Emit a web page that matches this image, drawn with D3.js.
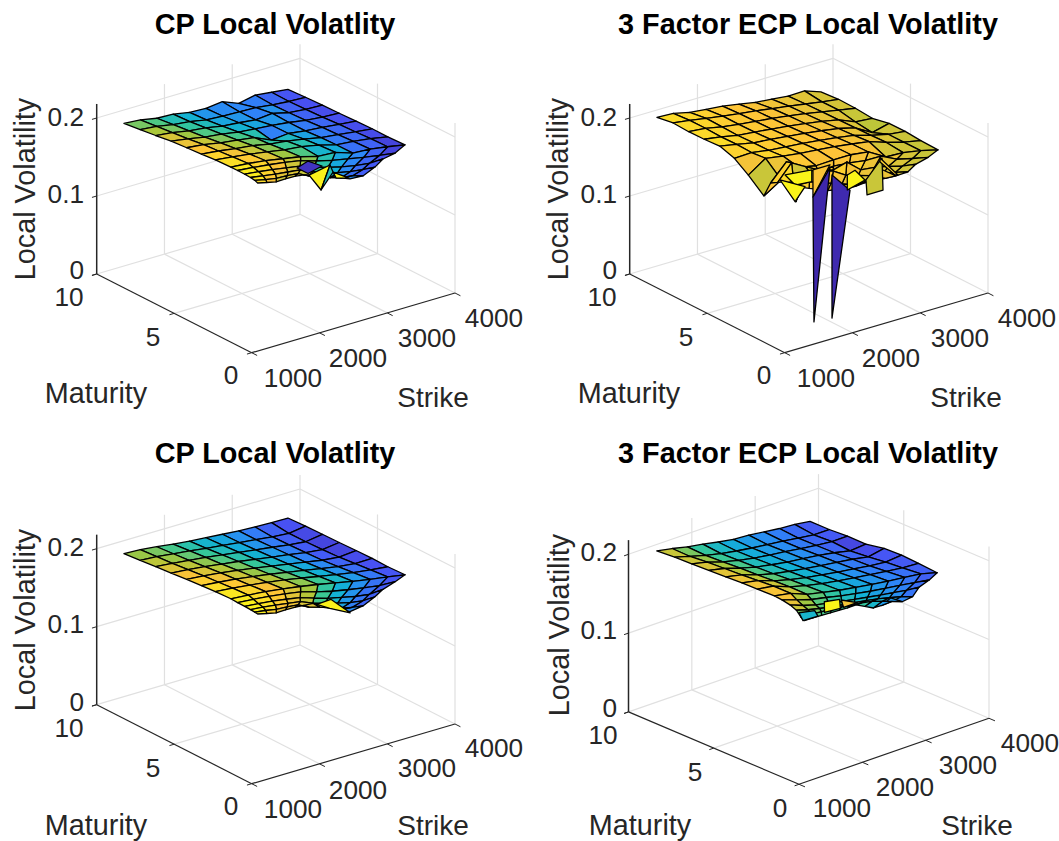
<!DOCTYPE html>
<html>
<head>
<meta charset="utf-8">
<script src="https://cdn.jsdelivr.net/npm/d3@7"></script>
<style>
  body { margin: 0; background: #fff; }
  text { font-family: "Liberation Sans", Arial, sans-serif; }
</style>
</head>
<body>
<div id="chart"></div>
<script>
// Local volatility surfaces, four panels

const titleCP = "CP Local Volatlity";
const titleECP = "3 Factor ECP Local Volatlity";
const strikeTicks = [1000, 2000, 3000, 4000];
const maturityTicks = [0, 5, 10];
const volTicks = [0, 0.1, 0.2];

// maturity of each row, far row first
const maturities = [8.9, 7.85, 6.85, 5.85, 4.85, 3.9, 3.0, 2.0, 1.5, 1.0, 0.6, 0.3, 0.1];

// strikes of each row (the range narrows at short maturities)
const strikeGrid = [
    [1150, 1392, 1634, 1876, 2118, 2360, 2602, 2844, 3086, 3328, 3570],
    [1150, 1394, 1638, 1882, 2126, 2370, 2614, 2858, 3102, 3346, 3590],
    [1150, 1396, 1642, 1888, 2134, 2380, 2626, 2872, 3118, 3364, 3610],
    [1150, 1398, 1646, 1894, 2142, 2390, 2638, 2886, 3134, 3382, 3630],
    [1150, 1400, 1650, 1900, 2150, 2400, 2650, 2900, 3150, 3400, 3650],
    [1150, 1402, 1654, 1906, 2158, 2410, 2662, 2914, 3166, 3418, 3670],
    [1150, 1405, 1659, 1914, 2168, 2423, 2677, 2932, 3186, 3441, 3695],
    [1150, 1407, 1664, 1921, 2178, 2435, 2692, 2949, 3206, 3463, 3720],
    [1135, 1368, 1600, 1833, 2065, 2298, 2530, 2763, 2995, 3228, 3460],
    [1126, 1330, 1534, 1738, 1942, 2146, 2350, 2554, 2758, 2962, 3166],
    [1120, 1304, 1487, 1671, 1854, 2038, 2222, 2405, 2589, 2772, 2956],
    [1114, 1274, 1433, 1593, 1752, 1912, 2072, 2231, 2391, 2550, 2710],
    [1111, 1247, 1383, 1520, 1656, 1792, 1928, 2064, 2201, 2337, 2473]
];

const volCPTop = [
    [.2005, .1986, .1946, .1936, .1899, .1888, .1911, .1829, .1873, .1847, .1823],
    [.2030, .2010, .1970, .1945, .1905, .1890, .1885, .1875, .1850, .1830, .1822],
    [.2055, .2030, .1990, .1965, .1925, .1905, .1880, .1900, .1845, .1825, .1817],
    [.2085, .2050, .2010, .1985, .1945, .1925, .1905, .1880, .1845, .1822, .1809],
    [.2100, .2075, .2035, .2005, .1975, .1878, .1900, .1870, .1850, .1825, .1804],
    [.2115, .2090, .2055, .2030, .1985, .1960, .1920, .1875, .1850, .1822, .1796],
    [.2130, .2105, .2075, .2040, .2000, .1975, .1930, .1870, .1850, .1820, .1776],
    [.2140, .2120, .2090, .2050, .2010, .1950, .1935, .1860, .1845, .1810, .1769],
    [.2150, .2130, .2105, .2075, .2040, .1975, .1925, .1885, .1845, .1810, .1780],
    [.2155, .2135, .2110, .2080, .2050, .1985, .1930, .1885, .1850, .1825, .1830],
    [.2155, .2130, .2105, .2085, .2065, .1995, .1940, .1890, .1855, .1835, .1820],
    [.2150, .2120, .2095, .2090, .2075, .2005, .1955, .1900, .1860, .1840, .1800],
    [.2137, .2109, .2081, .2085, .2082, .2067, .2032, .1985, .1937, .1890, .1842]
];

const volECPTop = [
    [.2082, .2071, .2022, .1999, .1979, .1942, .1902, .1883, .1859, .1865, .1791],
    [.2115, .2085, .2050, .2015, .1985, .1960, .1925, .1895, .1860, .1825, .1796],
    [.2104, .2085, .2040, .2010, .1985, .1960, .1930, .1895, .1855, .1815, .1777],
    [.2108, .2075, .2030, .2010, .1985, .1960, .1930, .1895, .1850, .1760, .1744],
    [.2122, .2080, .2035, .2015, .1990, .1965, .1935, .1900, .1845, .1720, .1775],
    [.2060, .2070, .2035, .2015, .1995, .1970, .1940, .1905, .1840, .1790, .1763],
    [.1936, .2086, .2050, .2020, .2000, .1975, .1945, .1910, .1835, .1775, .1728],
    [.1770, .1910, .2005, .1960, .1970, .1970, .1940, .1810, .1800, .1760, .1705],
    [.1990, .2200, .1900, .1950, .1970, .1950, .1920, .1920, .1820, .1770, .1726],
    [.2050, .2250, .2150, .2050, .2000, .2050, .1900, .1880, .1840, .1790, .1765],
    [.2100, .1800, .2150, .2100, .2050, .1950, .1900, .1850, .1830, .1800, .1760],
    [.2120, .2050, .2050, .2000, .1950, .1900, .1850, .1840, .1830, .1810, .1800],
    [.2150, .2050, .2000, .1950, .1900, .1880, .1850, .1850, .1860, .1900, .1956]
];

const volCPBottom = [
    [.2010, .2000, .1975, .1947, .1923, .1905, .1888, .1870, .1858, .1852, .1849],
    [.2030, .2015, .1990, .1965, .1935, .1912, .1885, .1860, .1832, .1815, .1846],
    [.2050, .2030, .2005, .1980, .1950, .1920, .1890, .1860, .1828, .1805, .1838],
    [.2070, .2050, .2025, .1995, .1965, .1930, .1895, .1862, .1825, .1800, .1829],
    [.2090, .2070, .2045, .2015, .1980, .1940, .1902, .1865, .1825, .1800, .1822],
    [.2105, .2085, .2060, .2030, .1995, .1955, .1915, .1875, .1835, .1810, .1813],
    [.2120, .2100, .2075, .2045, .2010, .1970, .1925, .1885, .1845, .1815, .1790],
    [.2130, .2112, .2090, .2060, .2025, .1985, .1940, .1895, .1855, .1820, .1782],
    [.2135, .2118, .2097, .2070, .2035, .1975, .1925, .1885, .1850, .1820, .1810],
    [.2140, .2122, .2102, .2075, .2045, .1985, .1930, .1890, .1850, .1825, .1838],
    [.2140, .2125, .2105, .2080, .2055, .1990, .1940, .1895, .1855, .1830, .1837],
    [.2140, .2120, .2095, .2085, .2070, .2000, .1960, .1910, .1865, .1835, .1812],
    [.2137, .2109, .2081, .2085, .2082, .2074, .2064, .2004, .1937, .1877, .1819]
];

const volECPBottom = [
    [.2103, .2065, .2018, .1985, .1945, .1910, .1897, .1870, .1846, .1830, .1802],
    [.2120, .2060, .2005, .1960, .1925, .1895, .1870, .1845, .1815, .1790, .1789],
    [.2125, .2080, .2015, .1965, .1925, .1895, .1870, .1840, .1810, .1790, .1792],
    [.2135, .2090, .2025, .1970, .1930, .1895, .1870, .1840, .1805, .1760, .1775],
    [.2145, .2100, .2030, .1975, .1935, .1900, .1870, .1840, .1810, .1770, .1808],
    [.2155, .2115, .2040, .1985, .1940, .1905, .1870, .1840, .1810, .1785, .1805],
    [.2160, .2125, .2045, .1990, .1945, .1910, .1875, .1845, .1815, .1790, .1775],
    [.2165, .2125, .2040, .1995, .1950, .1915, .1880, .1850, .1825, .1800, .1742],
    [.2165, .2100, .2040, .2000, .1955, .1920, .1885, .1855, .1830, .1800, .1768],
    [.2150, .2085, .2035, .2000, .1965, .1935, .1905, .1875, .1850, .1820, .1806],
    [.2120, .2075, .2040, .2010, .1985, .1960, .1935, .1905, .1870, .1830, .1780],
    [.2060, .2055, .2040, .2030, .2010, .1990, .1975, .1950, .1905, .1860, .1812],
    [.2037, .2033, .2027, .2020, .2014, .2008, .2008, .1951, .1893, .1887, .1944]
];

// loose facets at the short end of each surface: strikes, maturities, vols, colour value
const foldsCPTop = [
    { k: [1738, 1900, 2107, 1900], t: [.3, .3, .3, .3], v: [.2149, .2197, .2081, .2037], c: .179 },
    { k: [1915, 2224, 2092], t: [.3, .3, .3], v: [.2013, .2064, .1777], c: .216 },
    { k: [2092, 2224, 2269], t: [.3, .3, .3], v: [.1777, .2064, .1962], c: .197 },
    { k: [2269, 2506, 2314], t: [.3, .3, .3], v: [.1962, .1824, .1873], c: .216 }
];
const foldsECPTop = [
    { k: [1143, 1537, 1537, 1291], t: [.6, .6, .6, .6], v: [.2182, .2145, .1995, .2015], c: .226 },
    { k: [1069, 1291, 1438], t: [.6, .6, .6], v: [.2136, .1801, .1956], c: .226 },
    { k: [1760, 2011, 1760], t: [1.5, 1.5, 1.5], v: [.200, .200, .165], c: .196 },
    { k: [1775, 1760, 2011], t: [1.5, 1.5, 1.5], v: [.0045, .165, .196], c: .004 },
    { k: [1835, 1835, 2101], t: [.6, .6, .6], v: [.017, .2005, .174], c: .006 },
    { k: [2061, 2175, 2322, 2061], t: [.6, .6, .6, .6], v: [.1947, .1978, .1817, .1755], c: .226 },
    { k: [2337, 2573, 2588, 2352], t: [.6, .6, .6, .6], v: [.1813, .2035, .162, .1617], c: .177 },
    { k: [2544, 2809, 2765, 2544], t: [.6, .6, .6, .6], v: [.2042, .1756, .1768, .1991], c: .205 }
];
const foldsCPBottom = [
    { k: [2029, 2236, 2521, 2221], t: [.3, .3, .3, .3], v: [.2006, .2018, .1773, .1906], c: .214 }
];
const foldsECPBottom = [
    { k: [1080, 1144, 1380, 1329], t: [.3, .3, .3, .3], v: [.2127, .2009, .2001, .2084], c: .195 },
    { k: [1480, 1722, 1733, 1484], t: [.3, .3, .3, .3], v: [.2155, .2118, .2001, .2020], c: .224 },
    { k: [1749, 1998, 1785], t: [.3, .3, .3], v: [.2102, .1998, .1999], c: .216 }
];

// parula colormap stops
const parulaStops = [0, 1 / 7, 2 / 7, 3 / 7, 4 / 7, 5 / 7, 6 / 7, 1];
const parulaColors = ["#3e26a8", "#4852f4", "#2d87f7", "#12b1d6", "#37c897", "#abc739", "#fec338", "#f9fb15"];

// one panel: where the axes box sits on the page, plus its labels
const panels = [
    {
        title: titleCP, vols: volCPTop, folds: foldsCPTop, cLim: [.177, .217],
        origin: [251.7, 352.7], strikeVec: [203.3, -59.7], matVec: [-155, -78.7], volScale: 780,
        titleAt: [275, 24], volLabels: [[84, 270], [84, 194], [84, 117]], volTitleAt: [25, 189],
        matLabels: [[231, 375], [153, 337], [69, 297]],
        strikeLabels: [[293, 378], [358, 358], [427, 338], [494, 318]],
        matTitleAt: [96, 393], strikeTitleAt: [433, 397]
    },
    {
        title: titleECP, vols: volECPTop, folds: foldsECPTop, cLim: [.003, .23],
        origin: [784.7, 352.7], strikeVec: [203.3, -59.7], matVec: [-155, -78.7], volScale: 780,
        titleAt: [808, 24], volLabels: [[617, 270], [617, 194], [617, 117]], volTitleAt: [558, 189],
        matLabels: [[764, 375], [686, 337], [602, 297]],
        strikeLabels: [[826, 378], [891, 358], [960, 338], [1027, 318]],
        matTitleAt: [629, 393], strikeTitleAt: [966, 397]
    },
    {
        title: titleCP, vols: volCPBottom, folds: foldsCPBottom, cLim: [.176, .215],
        origin: [251.7, 783.7], strikeVec: [203.3, -59.7], matVec: [-155, -79], volScale: 780,
        titleAt: [275, 453], volLabels: [[84, 702], [84, 624], [84, 547]], volTitleAt: [25, 620],
        matLabels: [[231, 806], [153, 768], [69, 728]],
        strikeLabels: [[293, 809], [358, 790], [427, 768], [494, 748]],
        matTitleAt: [96, 825], strikeTitleAt: [433, 825]
    },
    {
        title: titleECP, vols: volECPBottom, folds: foldsECPBottom, cLim: [.17, .225],
        origin: [799, 784.3], strikeVec: [190, -66], matVec: [-170.5, -72.4], volScale: 788,
        titleAt: [808, 453], volLabels: [[617, 708], [617, 630], [617, 552]], volTitleAt: [559, 625],
        matLabels: [[780, 808], [695, 772], [603, 735]],
        strikeLabels: [[842, 808], [905, 787], [968, 765], [1030, 743]],
        matTitleAt: [640, 825], strikeTitleAt: [977, 825]
    }
];

const svg = d3.select("#chart").append("svg")
    .attr("width", 1059)
    .attr("height", 841);

const volTop = 0.218; // upper limit of the vertical axis

panels.forEach(function(p) {
    const g = svg.append("g");

    const strikeT = d3.scaleLinear().domain([1000, 4000]).range([0, 1]);
    const matT = d3.scaleLinear().domain([0, 10]).range([0, 1]);
    const volPx = d3.scaleLinear().domain([0, 1]).range([0, p.volScale]);
    const color = d3.scaleLinear()
        .domain(parulaStops.map(function(t) { return p.cLim[0] + t * (p.cLim[1] - p.cLim[0]); }))
        .range(parulaColors)
        .clamp(true);

    // strike, maturity, vol -> page position
    function project(k, t, v) {
        const s = strikeT(k), m = matT(t);
        return [
            p.origin[0] + s * p.strikeVec[0] + m * p.matVec[0],
            p.origin[1] + s * p.strikeVec[1] + m * p.matVec[1] - volPx(v)
        ];
    }

    function gridLine(a, b) {
        const p1 = project(a[0], a[1], a[2]), p2 = project(b[0], b[1], b[2]);
        g.append("line")
            .attr("x1", p1[0]).attr("y1", p1[1])
            .attr("x2", p2[0]).attr("y2", p2[1])
            .attr("stroke", "#e0e0e0")
            .attr("stroke-width", 1.2);
    }

    // grid on floor and the two back walls
    gridLine([1000, 10, 0], [4000, 10, 0]);
    gridLine([4000, 10, 0], [4000, 0, 0]);
    [2000, 3000].forEach(function(k) {
        gridLine([k, 0, 0], [k, 10, 0]);
        gridLine([k, 10, 0], [k, 10, volTop]);
    });
    gridLine([1000, 5, 0], [4000, 5, 0]);
    gridLine([4000, 10, 0], [4000, 10, volTop]);
    gridLine([4000, 5, 0], [4000, 5, volTop]);
    gridLine([4000, 0, 0], [4000, 0, volTop]);
    [0.1, 0.2].forEach(function(v) {
        gridLine([1000, 10, v], [4000, 10, v]);
        gridLine([4000, 10, v], [4000, 0, v]);
    });

    // faces, far row first so nearer ones paint over
    const faces = [];
    for (let r = 0; r < maturities.length - 1; r++) {
        for (let c = strikeGrid[r].length - 2; c >= 0; c--) {
            faces.push({
                pts: [
                    project(strikeGrid[r][c], maturities[r], p.vols[r][c]),
                    project(strikeGrid[r][c + 1], maturities[r], p.vols[r][c + 1]),
                    project(strikeGrid[r + 1][c + 1], maturities[r + 1], p.vols[r + 1][c + 1]),
                    project(strikeGrid[r + 1][c], maturities[r + 1], p.vols[r + 1][c])
                ],
                value: p.vols[r + 1][c]
            });
        }
    }
    p.folds.forEach(function(f) {
        faces.push({
            pts: f.k.map(function(k, i) { return project(k, f.t[i], f.v[i]); }),
            value: f.c
        });
    });

    g.append("g").selectAll("path")
        .data(faces)
        .join("path")
        .attr("d", function(d) { return "M" + d.pts.join("L") + "Z"; })
        .attr("fill", function(d) { return color(d.value); })
        .attr("stroke", "#000")
        .attr("stroke-width", 1.3)
        .attr("stroke-linejoin", "round");

    // the three axis lines
    function axisLine(a, b, w) {
        const p1 = project(a[0], a[1], a[2]), p2 = project(b[0], b[1], b[2]);
        g.append("line")
            .attr("x1", p1[0]).attr("y1", p1[1])
            .attr("x2", p2[0]).attr("y2", p2[1])
            .attr("stroke", "#262626")
            .attr("stroke-width", w);
    }
    axisLine([1000, 0, 0], [4000, 0, 0], 1.2);
    axisLine([1000, 0, 0], [1000, 10, 0], 1.2);
    axisLine([1000, 10, 0], [1000, 10, volTop], 1.5);

    // ticks
    strikeTicks.forEach(function(k) { axisLine([k, 0, 0], [k, -0.35, 0], 1); });
    maturityTicks.forEach(function(t) { axisLine([1000, t, 0], [930, t, 0], 1); });
    volTicks.forEach(function(v) { axisLine([1000, 10, v], [930, 10, v], 1); });

    function label(txt, at, size, anchor) {
        return g.append("text")
            .attr("x", at[0])
            .attr("y", at[1])
            .attr("text-anchor", anchor || "middle")
            .attr("dominant-baseline", "central")
            .attr("fill", "#262626")
            .attr("font-size", size)
            .text(txt);
    }

    label(p.title, p.titleAt, 28.8).attr("font-weight", "bold").attr("fill", "#000");
    volTicks.forEach(function(v, i) { label(v === 0 ? "0" : String(v), p.volLabels[i], 26.2, "end"); });
    maturityTicks.forEach(function(t, i) { label(String(t), p.matLabels[i], 26.2); });
    strikeTicks.forEach(function(k, i) { label(String(k), p.strikeLabels[i], 26.2); });
    label("Maturity", p.matTitleAt, 28.8);
    label("Strike", p.strikeTitleAt, 28);
    label("Local Volatility", p.volTitleAt, 28.8)
        .attr("transform", "rotate(-90," + p.volTitleAt[0] + "," + p.volTitleAt[1] + ")");
});
</script>
</body>
</html>
